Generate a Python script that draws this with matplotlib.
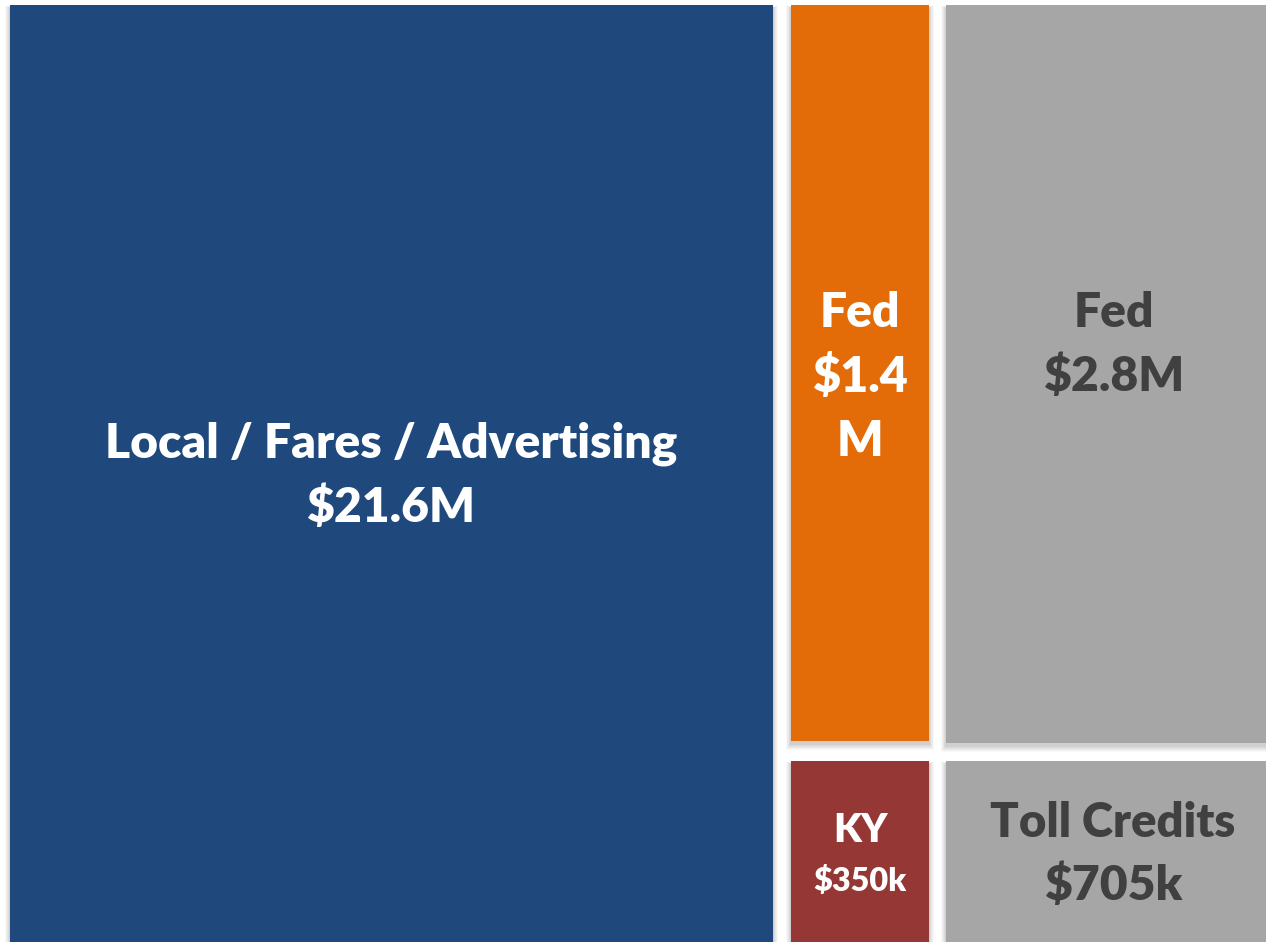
import matplotlib
matplotlib.use("Agg")
import matplotlib.pyplot as plt
from matplotlib.patches import Rectangle

# funding sources (labels as shown on the slide)
names = ["Local / Fares / Advertising", "Fed", "Fed", "KY", "Toll Credits"]
amounts = ["$21.6M", "$1.4\nM", "$2.8M", "$350k", "$705k"]
colors = ["#1F497D", "#E36C09", "#A6A6A6", "#953735", "#A6A6A6"]
text_colors = ["white", "white", "#404040", "white", "#404040"]

# slide layout in pixels (x0, y0, x1, y1) - not proportional to values
boxes = [(10, 5, 773, 950), (791, 5, 929, 741), (946, 5, 1285, 743),
         (791, 761, 929, 950), (946, 761, 1285, 950)]
# label centre (x, y of first line), line step, font sizes (name, amount)
label_pos = [(391, 444, 64, 34.6, 34.6), (860, 313, 64, 34.6, 35), (1114, 313, 64, 34.6, 34.6),
             (860, 831, 50, 28.5, 23.3), (1113, 823, 63, 34, 34.6)]

fig = plt.figure(figsize=(12.66, 9.42), dpi=100)
ax = fig.add_axes([0, 0, 1, 1])
ax.set_xlim(0, 1266)
ax.set_ylim(942, 0)
ax.axis("off")

# soft drop shadow: stacked faint rectangles
def shadow(x0, y0, x1, y1):
    for k in range(8, 0, -1):
        ax.add_patch(Rectangle((x0 - k * 0.6, y0 + 3 - k * 0.3), (x1 - x0) + k * 1.2,
                               (y1 - y0) + k * 1.0, color="black", alpha=0.025,
                               lw=0, zorder=1))

for i in range(len(names)):
    x0, y0, x1, y1 = boxes[i]
    shadow(x0, y0, x1, y1)
    ax.add_patch(Rectangle((x0, y0), x1 - x0, y1 - y0, color=colors[i], lw=0, zorder=2))

    cx, cy, step, fs1, fs2 = label_pos[i]
    ax.text(cx, cy, names[i], ha="center", va="center", fontsize=fs1,
            fontweight=800, family="Lato", color=text_colors[i], zorder=3)
    parts = amounts[i].split("\n")
    for j, p in enumerate(parts):
        ax.text(cx, cy + step * (j + 1), p, ha="center", va="center", fontsize=fs2,
                fontweight=800, family="Lato", color=text_colors[i], zorder=3)

fig.savefig("out.png", dpi=100)
